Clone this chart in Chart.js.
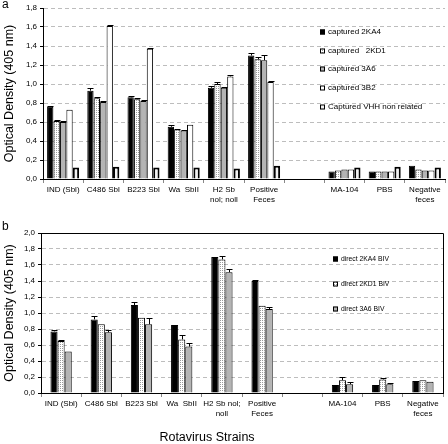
<!DOCTYPE html>
<html>
<head>
<meta charset="utf-8">
<script src="https://cdn.jsdelivr.net/npm/chart.js@4.4.1/dist/chart.umd.min.js"></script>
<style>
    body { margin: 0; background: #fff; width: 448px; height: 444px; position: relative; overflow: hidden;
           font-family: "Liberation Sans", Arial, sans-serif; color: #000; }
    #wrapA { position: absolute; left: 0; top: 0; width: 448px; height: 218px; }
    #wrapB { position: absolute; left: 0; top: 218px; width: 448px; height: 226px; }
    .panel { position: absolute; font-size: 12px; }
    #xTitle { position: absolute; left: 0; width: 414px; top: 430px; text-align: center; font-size: 12.5px; }
</style>
</head>
<body>
<div id="wrapA"><canvas id="chartA" width="448" height="218"></canvas></div>
<div id="wrapB"><canvas id="chartB" width="448" height="226"></canvas></div>
<div class="panel" style="left:2px;top:-3px">a</div>
<div class="panel" style="left:2px;top:219px">b</div>
<div id="xTitle">Rotavirus Strains</div>
<script>
//Panel a data
let labelsA = ['IND (Sbl)', 'C486 Sbl', 'B223 Sbl', 'Wa  SbII', ['H2 Sb', 'nol; noll'], ['Positive', 'Feces'], '', 'MA-104', 'PBS', ['Negative', 'feces']];
let cap2KA4 = [0.76, 0.93, 0.86, 0.55, 0.96, 1.30, null, 0.08, 0.08, 0.14];
let cap2KD1 = [0.61, 0.85, 0.84, 0.52, 1.00, 1.26, null, 0.09, 0.08, 0.10];
let cap3A6 = [0.60, 0.81, 0.82, 0.51, 0.96, 1.25, null, 0.10, 0.08, 0.09];
let cap3B2 = [0.73, 1.61, 1.37, 0.57, 1.08, 1.02, null, 0.10, 0.08, 0.09];
let capVHH = [0.12, 0.13, 0.12, 0.12, 0.11, 0.14, null, 0.12, 0.13, 0.12];
let errCap2KA4 = [0.01, 0.03, 0.01, 0.02, 0.02, 0.03, 0, 0, 0, 0];
let errCap2KD1 = [0.01, 0.01, 0.01, 0.01, 0.02, 0.02, 0, 0, 0, 0];
let errCap3A6 = [0.01, 0.01, 0.01, 0.01, 0.01, 0.06, 0, 0, 0, 0];
let errCap3B2 = [0, 0.01, 0.01, 0, 0.01, 0.01, 0, 0, 0, 0];

//Panel b data
let labelsB = ['IND (Sbl)', 'C486 Sbl', 'B223 Sbl', 'Wa  SbII', ['H2 Sb nol;', 'noll'], ['Positive', 'Feces'], '', 'MA-104', 'PBS', ['Negative', 'feces']];
let dir2KA4 = [0.77, 0.92, 1.10, 0.85, 1.70, 1.40, null, 0.10, 0.10, 0.15];
let dir2KD1 = [0.65, 0.86, 0.94, 0.67, 1.67, 1.09, null, 0.16, 0.17, 0.16];
let dir3A6 = [0.52, 0.76, 0.86, 0.58, 1.51, 1.05, null, 0.11, 0.11, 0.14];
let errDir2KA4 = [0.02, 0.04, 0.04, 0, 0, 0.01, 0, 0, 0, 0];
let errDir2KD1 = [0.01, 0, 0, 0.05, 0.04, 0, 0, 0.04, 0.02, 0];
let errDir3A6 = [0, 0.03, 0.08, 0.04, 0.04, 0.03, 0, 0.03, 0.01, 0];

Chart.defaults.font.family = '"Liberation Sans", Arial, sans-serif';
Chart.defaults.color = '#000';

//stipple fill for the 2KD1 bars
function dotPattern() {
    let c = document.createElement('canvas');
    c.width = 2; c.height = 2;
    let g = c.getContext('2d');
    g.fillStyle = '#fff';
    g.fillRect(0, 0, 2, 2);
    g.fillStyle = '#9a9a9a';
    g.fillRect(0, 0, 1, 1);
    return g.createPattern(c, 'repeat');
}
let dots = dotPattern();

const errorBars = {
    id: 'errorBars',
    afterDatasetsDraw(chart) {
        let ctx = chart.ctx, y = chart.scales.y;
        ctx.save();
        ctx.strokeStyle = '#000';
        ctx.lineWidth = 1;
        chart.data.datasets.forEach((ds, i) => {
            if (!ds.errors) return;
            chart.getDatasetMeta(i).data.forEach((bar, j) => {
                let e = ds.errors[j];
                if (!e || ds.data[j] == null) return;
                let top = Math.round(y.getPixelForValue(ds.data[j] + e)) + 0.5;
                let x = Math.round(bar.x) + 0.5;
                ctx.beginPath();
                ctx.moveTo(x, bar.y);
                ctx.lineTo(x, top);
                ctx.moveTo(x - 3, top);
                ctx.lineTo(x + 3, top);
                ctx.stroke();
            });
        });
        ctx.restore();
    }
};

const boxLegend = {
    id: 'boxLegend',
    afterDraw(chart, args, opts) {
        let ctx = chart.ctx;
        ctx.save();
        ctx.font = opts.size + 'px "Liberation Sans", Arial';
        ctx.textBaseline = 'middle';
        chart.data.datasets.forEach((ds, i) => {
            let y = Math.round(opts.y + i * opts.dy);
            ctx.fillStyle = ds.backgroundColor;
            ctx.fillRect(opts.x, y - opts.box / 2, opts.box, opts.box);
            ctx.strokeStyle = '#000';
            ctx.lineWidth = 1;
            ctx.strokeRect(opts.x + 0.5, y - opts.box / 2 + 0.5, opts.box - 1, opts.box - 1);
            ctx.fillStyle = '#000';
            ctx.fillText(ds.label, opts.x + opts.box + 3, y);
        });
        ctx.restore();
    }
};

const frame = {
    id: 'frame',
    afterDraw(chart, args, opts) {
        if (!opts.show) return;
        let a = chart.chartArea, ctx = chart.ctx;
        ctx.save();
        ctx.strokeStyle = '#000';
        ctx.lineWidth = 1;
        ctx.beginPath();
        ctx.moveTo(a.left, Math.round(a.top) + 0.5);
        ctx.lineTo(Math.round(a.right) + 0.5, Math.round(a.top) + 0.5);
        ctx.lineTo(Math.round(a.right) + 0.5, a.bottom);
        ctx.stroke();
        ctx.restore();
    }
};

function fmt(v) {
    return v.toFixed(1).replace('.', ',');
}

function scales(yMax, yWidth, xHeight) {
    return {
        x: {
            grid: {display: true, drawOnChartArea: false, tickLength: 4, tickColor: '#888'},
            border: {color: '#000'},
            ticks: {autoSkip: false, maxRotation: 0, minRotation: 0, font: {size: 8}, padding: 2},
            afterFit: (s) => { s.height = xHeight; }
        },
        y: {
            min: 0, max: yMax,
            ticks: {stepSize: 0.2, font: {size: 8}, padding: 3, callback: (v) => fmt(v)},
            grid: {color: '#bdbdbd', tickColor: '#000', tickLength: 3, tickBorderDash: []},
            border: {color: '#000', dash: [4, 3]},
            title: {display: true, text: 'Optical Density (405 nm)', font: {size: 12.5}, padding: {top: 2, bottom: 4}},
            afterFit: (s) => { s.width = yWidth; }
        }
    };
}

new Chart(document.getElementById('chartA').getContext('2d'), {
    type: 'bar',
    data: {
        labels: labelsA,
        datasets: [
            {label: 'captured 2KA4', data: cap2KA4, errors: errCap2KA4, backgroundColor: '#000'},
            {label: 'captured   2KD1', data: cap2KD1, errors: errCap2KD1, backgroundColor: dots},
            {label: 'captured 3A6', data: cap3A6, errors: errCap3A6, backgroundColor: '#b4b4b4'},
            {label: 'captured 3B2', data: cap3B2, errors: errCap3B2, backgroundColor: '#fff'},
            {label: 'Captured VHH non related', data: capVHH, backgroundColor: '#f2f2f2', borderWidth: 2}
        ]
    },
    options: {
        responsive: false,
        animation: false,
        layout: {padding: {left: 0, right: 3, top: 8, bottom: 0}},
        datasets: {bar: {borderColor: '#000', borderWidth: 1, categoryPercentage: 0.8, barPercentage: 0.98}},
        scales: scales(1.8, 43, 39),
        plugins: {
            legend: {display: false},
            tooltip: {enabled: false},
            boxLegend: {x: 320, y: 32, dy: 18.7, box: 5, size: 8},
            frame: {show: false}
        }
    },
    plugins: [errorBars, boxLegend, frame]
});

new Chart(document.getElementById('chartB').getContext('2d'), {
    type: 'bar',
    data: {
        labels: labelsB,
        datasets: [
            {label: 'direct 2KA4 BIV', data: dir2KA4, errors: errDir2KA4, backgroundColor: '#000'},
            {label: 'direct 2KD1 BIV', data: dir2KD1, errors: errDir2KD1, backgroundColor: dots},
            {label: 'direct 3A6 BIV', data: dir3A6, errors: errDir3A6, backgroundColor: '#b4b4b4'}
        ]
    },
    options: {
        responsive: false,
        animation: false,
        layout: {padding: {left: 0, right: 5, top: 15, bottom: 0}},
        datasets: {bar: {borderColor: '#000', borderWidth: 1, categoryPercentage: 0.53, barPercentage: 1}},
        scales: scales(2.0, 41, 51),
        plugins: {
            legend: {display: false},
            tooltip: {enabled: false},
            boxLegend: {x: 333, y: 41.3, dy: 24.7, box: 5, size: 6.8},
            frame: {show: true}
        }
    },
    plugins: [errorBars, boxLegend, frame]
});
</script>
</body>
</html>
